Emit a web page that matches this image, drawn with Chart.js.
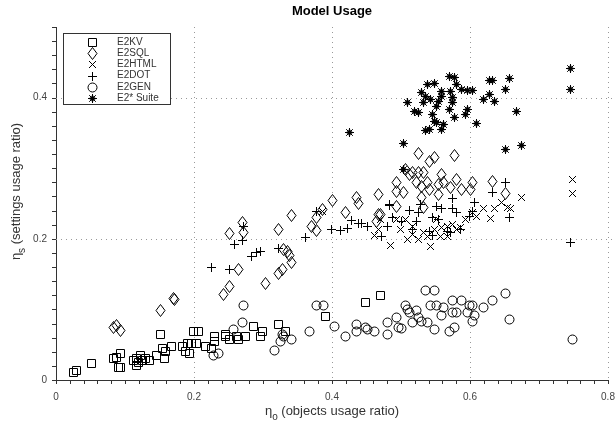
<!DOCTYPE html>
<html>
<head>
<meta charset="utf-8">
<script src="https://cdn.jsdelivr.net/npm/chart.js@4/dist/chart.umd.min.js"></script>
<style>
  body { margin: 0; background: #fff; }
  #c { display: block; }
</style>
</head>
<body>
<canvas id="c" width="615" height="428"></canvas>
<script>
const seriesNames = ['E2KV', 'E2SQL', 'E2HTML', 'E2DOT', 'E2GEN', 'E2* Suite'];
const xTicks = [0, 0.2, 0.4, 0.6, 0.8];
const yTicks = [0, 0.2, 0.4];

const kvX = [0.026,0.030,0.052,0.083,0.087,0.094,0.091,0.094,0.112,0.116,0.120,0.122,0.125,0.117,0.129,0.135,0.146,0.152,0.154,0.157,0.158,0.167,0.183,0.188,0.191,0.196,0.199,0.206,0.193,0.203,0.216,0.226,0.230,0.230,0.246,0.246,0.262,0.251,0.265,0.275,0.297,0.299,0.286,0.323,0.333,0.391,0.449,0.471];
const kvY = [0.011,0.014,0.023,0.031,0.032,0.038,0.017,0.018,0.028,0.030,0.025,0.034,0.027,0.020,0.031,0.027,0.034,0.065,0.045,0.031,0.040,0.047,0.048,0.040,0.052,0.051,0.068,0.068,0.037,0.051,0.048,0.045,0.062,0.055,0.065,0.061,0.061,0.058,0.058,0.062,0.061,0.069,0.076,0.078,0.069,0.090,0.110,0.120];

const sqlX = [0.083,0.087,0.094,0.152,0.171,0.172,0.243,0.251,0.265,0.303,0.323,0.328,0.342,0.330,0.335,0.338,0.251,0.271,0.272,0.323,0.342,0.371,0.377,0.377,0.386,0.401,0.419,0.435,0.439,0.467,0.468,0.464,0.471,0.493,0.494,0.504,0.507,0.512,0.516,0.525,0.533,0.522,0.529,0.538,0.541,0.555,0.558,0.562,0.572,0.580,0.587,0.600,0.604,0.632,0.652,0.529,0.493,0.533,0.555,0.526,0.541,0.549,0.577];
const sqlY = [0.075,0.077,0.070,0.098,0.116,0.114,0.121,0.133,0.157,0.136,0.151,0.157,0.167,0.185,0.182,0.177,0.208,0.223,0.209,0.213,0.233,0.218,0.212,0.230,0.242,0.254,0.237,0.259,0.250,0.263,0.235,0.225,0.235,0.280,0.267,0.265,0.298,0.291,0.294,0.294,0.294,0.280,0.274,0.280,0.270,0.277,0.291,0.280,0.273,0.284,0.270,0.270,0.280,0.281,0.264,0.259,0.246,0.245,0.263,0.321,0.310,0.315,0.318];

const htmlX = [0.748,0.748,0.674,0.635,0.620,0.630,0.654,0.659,0.645,0.485,0.543,0.509,0.499,0.516,0.526,0.538,0.549,0.559,0.568,0.586,0.593,0.603,0.610,0.470,0.494,0.506,0.552,0.574,0.580,0.532,0.517,0.557,0.567,0.462,0.386,0.468];
const htmlY = [0.284,0.264,0.259,0.243,0.243,0.229,0.245,0.243,0.251,0.191,0.189,0.199,0.213,0.217,0.199,0.203,0.213,0.216,0.217,0.216,0.227,0.237,0.231,0.227,0.227,0.228,0.227,0.220,0.213,0.209,0.206,0.203,0.203,0.205,0.239,0.213];

const dotX = [0.226,0.252,0.258,0.270,0.272,0.283,0.290,0.297,0.323,0.361,0.377,0.399,0.412,0.423,0.428,0.439,0.443,0.452,0.483,0.480,0.472,0.487,0.746,0.657,0.652,0.632,0.606,0.575,0.574,0.581,0.559,0.552,0.526,0.522,0.512,0.500,0.545,0.555,0.572,0.541,0.516,0.599,0.603,0.567,0.546,0.586,0.484,0.528];
const dotY = [0.160,0.157,0.192,0.198,0.218,0.175,0.181,0.182,0.186,0.202,0.238,0.213,0.212,0.215,0.226,0.222,0.221,0.218,0.247,0.218,0.203,0.230,0.195,0.230,0.280,0.266,0.252,0.257,0.243,0.237,0.243,0.246,0.237,0.225,0.240,0.225,0.230,0.228,0.209,0.211,0.213,0.232,0.239,0.210,0.204,0.213,0.248,0.248];

const genX = [0.228,0.235,0.257,0.272,0.271,0.328,0.330,0.341,0.326,0.317,0.368,0.377,0.387,0.403,0.419,0.435,0.435,0.449,0.451,0.462,0.480,0.481,0.494,0.497,0.501,0.507,0.509,0.512,0.516,0.523,0.526,0.529,0.536,0.549,0.543,0.552,0.561,0.574,0.587,0.574,0.580,0.558,0.599,0.604,0.597,0.607,0.603,0.620,0.632,0.652,0.657,0.748,0.577,0.571,0.549,0.538];
const genY = [0.035,0.038,0.072,0.105,0.081,0.065,0.061,0.058,0.055,0.042,0.068,0.106,0.105,0.076,0.062,0.068,0.079,0.075,0.072,0.069,0.064,0.082,0.089,0.075,0.073,0.105,0.100,0.096,0.082,0.098,0.089,0.083,0.127,0.127,0.105,0.106,0.103,0.112,0.112,0.096,0.096,0.091,0.105,0.106,0.095,0.092,0.083,0.102,0.112,0.123,0.086,0.057,0.075,0.068,0.071,0.081];

const suiteX = [0.746,0.746,0.657,0.652,0.667,0.674,0.652,0.628,0.632,0.609,0.597,0.604,0.620,0.628,0.635,0.594,0.596,0.577,0.571,0.577,0.580,0.587,0.572,0.574,0.574,0.570,0.558,0.559,0.555,0.552,0.549,0.539,0.536,0.529,0.533,0.543,0.545,0.548,0.552,0.562,0.559,0.536,0.541,0.526,0.425,0.503,0.503,0.510,0.519];
const suiteY = [0.441,0.411,0.427,0.411,0.380,0.332,0.326,0.424,0.424,0.363,0.410,0.410,0.397,0.404,0.394,0.376,0.383,0.372,0.430,0.428,0.418,0.411,0.408,0.400,0.393,0.383,0.408,0.402,0.394,0.387,0.420,0.418,0.401,0.407,0.393,0.397,0.376,0.366,0.365,0.362,0.355,0.353,0.355,0.379,0.350,0.335,0.298,0.393,0.380];

// marker images, drawn crisp in a 15x15 canvas
function marker(kind) {
    const c = document.createElement('canvas');
    c.width = 15; c.height = 15;
    const g = c.getContext('2d');
    g.strokeStyle = '#000';
    g.lineWidth = 1;
    g.translate(7, 7);
    g.beginPath();
    if (kind === 'square') {
        g.rect(-3.5, -3.5, 8, 8);
    } else if (kind === 'diamond') {
        g.moveTo(0.5, -5.5); g.lineTo(5, 0.5); g.lineTo(0.5, 6.5); g.lineTo(-4, 0.5); g.closePath();
    } else if (kind === 'x') {
        g.moveTo(-3, -3); g.lineTo(4, 4); g.moveTo(4, -3); g.lineTo(-3, 4);
    } else if (kind === 'plus') {
        g.moveTo(-4, 0.5); g.lineTo(5, 0.5); g.moveTo(0.5, -4); g.lineTo(0.5, 5);
    } else if (kind === 'circle') {
        g.arc(0.5, 0.5, 4.5, 0, Math.PI * 2);
    } else if (kind === 'star') {
        g.moveTo(-4, 0.5); g.lineTo(5, 0.5); g.moveTo(0.5, -4); g.lineTo(0.5, 5);
        g.moveTo(-2.8, -2.8); g.lineTo(3.8, 3.8); g.moveTo(3.8, -2.8); g.lineTo(-2.8, 3.8);
        g.stroke();
        g.beginPath();
        g.lineWidth = 0.8;
        g.arc(0.5, 0.5, 2.5, 0, Math.PI * 2);
    }
    g.stroke();
    return c;
}

const markers = ['square', 'diamond', 'x', 'plus', 'circle', 'star'].map(marker);
const allX = [kvX, sqlX, htmlX, dotX, genX, suiteX];
const allY = [kvY, sqlY, htmlY, dotY, genY, suiteY];

const datasets = seriesNames.map((name, s) => ({
    label: name,
    data: allX[s].map((x, i) => ({ x: x, y: allY[s][i] })),
    pointStyle: markers[s],
    showLine: false
}));

const FONT = '"Liberation Sans", Arial, sans-serif';

const decor = {
    id: 'decor',
    beforeDatasetsDraw(chart) {
        const ctx = chart.ctx, a = chart.chartArea;
        const xs = chart.scales.x, ys = chart.scales.y;
        ctx.save();
        // dotted grid
        ctx.strokeStyle = '#999';
        ctx.lineWidth = 1;
        ctx.setLineDash([1, 4]);
        xTicks.slice(1).forEach(v => {
            const px = Math.round(xs.getPixelForValue(v)) + 0.5;
            ctx.beginPath(); ctx.moveTo(px, a.top); ctx.lineTo(px, a.bottom); ctx.stroke();
        });
        yTicks.slice(1).forEach(v => {
            const py = Math.round(ys.getPixelForValue(v)) + 0.5;
            ctx.beginPath(); ctx.moveTo(a.left, py); ctx.lineTo(a.right + 4, py); ctx.stroke();
        });
        ctx.setLineDash([]);
        // minor + major tick marks
        ctx.strokeStyle = '#333';
        for (let i = 0; i <= 40; i++) {
            const px = Math.round(xs.getPixelForValue(i * 0.02)) + 0.5;
            ctx.beginPath(); ctx.moveTo(px, a.bottom); ctx.lineTo(px, a.bottom + 4); ctx.stroke();
        }
        for (let i = 0; i <= 25; i++) {
            const py = Math.round(ys.getPixelForValue(i * 0.02)) + 0.5;
            ctx.beginPath(); ctx.moveTo(a.left - 4, py); ctx.lineTo(a.left, py); ctx.stroke();
        }
        ctx.restore();
        // keep the marker images sharp
        ctx.imageSmoothingEnabled = false;
    },
    afterDatasetsDraw(chart) {
        chart.ctx.imageSmoothingEnabled = true;
    },
    afterDraw(chart) {
        const ctx = chart.ctx, a = chart.chartArea;
        const cx = (a.left + a.right) / 2, cy = (a.top + a.bottom) / 2;
        ctx.save();
        // title
        ctx.fillStyle = '#000';
        ctx.font = 'bold 13px ' + FONT;
        ctx.textAlign = 'center';
        ctx.textBaseline = 'alphabetic';
        ctx.fillText('Model Usage', cx, 15);

        // axis titles with subscripts
        function subTitle(sub, rest, x, y, rot) {
            ctx.save();
            ctx.translate(x, y);
            if (rot) ctx.rotate(-Math.PI / 2);
            ctx.fillStyle = '#333';
            ctx.font = '13px ' + FONT;
            const w1 = ctx.measureText('η').width;
            ctx.font = '10px ' + FONT;
            const w2 = ctx.measureText(sub).width;
            ctx.font = '13px ' + FONT;
            const w3 = ctx.measureText(' ' + rest).width;
            let sx = -(w1 + w2 + w3) / 2;
            ctx.textAlign = 'left';
            ctx.fillText('η', sx, 0);
            ctx.font = '10px ' + FONT;
            ctx.fillText(sub, sx + w1, 5);
            ctx.font = '13px ' + FONT;
            ctx.fillText(' ' + rest, sx + w1 + w2, 0);
            ctx.restore();
        }
        subTitle('o', '(objects usage ratio)', cx, 415, false);
        subTitle('s', '(settings usage ratio)', 20, cy - 12, true);

        // legend box
        const lx = 63, ly = 33, lw = 107, lh = 71;
        ctx.fillStyle = '#fff';
        ctx.fillRect(lx, ly, lw, lh);
        ctx.strokeStyle = '#333';
        ctx.lineWidth = 1;
        ctx.strokeRect(lx + 0.5, ly + 0.5, lw, lh);
        ctx.font = '10px ' + FONT;
        ctx.fillStyle = '#333';
        ctx.textAlign = 'left';
        ctx.textBaseline = 'middle';
        ctx.imageSmoothingEnabled = false;
        seriesNames.forEach((name, i) => {
            const yy = ly + 9 + i * 11.2;
            ctx.drawImage(markers[i], 85, Math.round(yy - 7));
            ctx.fillText(name, 117, yy);
        });
        ctx.restore();
    }
};

new Chart(document.getElementById('c'), {
    type: 'scatter',
    data: { datasets: datasets },
    options: {
        responsive: false,
        animation: false,
        devicePixelRatio: 1,
        layout: { padding: { top: 27, right: 7, bottom: 0, left: 0 } },
        plugins: { legend: { display: false }, tooltip: { enabled: false } },
        scales: {
            x: {
                type: 'linear', min: 0, max: 0.8,
                grid: { display: false, drawTicks: false },
                border: { display: true, color: '#333', width: 1 },
                ticks: {
                    stepSize: 0.2, padding: 11, color: '#444',
                    font: { family: FONT, size: 10 },
                    callback: v => String(Math.round(v * 10) / 10)
                },
                afterFit(scale) { scale.height = 48; scale.paddingLeft = 0; scale.paddingRight = 0; }
            },
            y: {
                type: 'linear', min: 0, max: 0.5,
                grid: { display: false, drawTicks: false },
                border: { display: true, color: '#333', width: 1 },
                ticks: {
                    stepSize: 0.2, includeBounds: false, padding: 9, color: '#444',
                    font: { family: FONT, size: 10 },
                    callback: v => String(Math.round(v * 10) / 10)
                },
                afterFit(scale) { scale.width = 56; }
            }
        }
    },
    plugins: [decor]
});
</script>
</body>
</html>
